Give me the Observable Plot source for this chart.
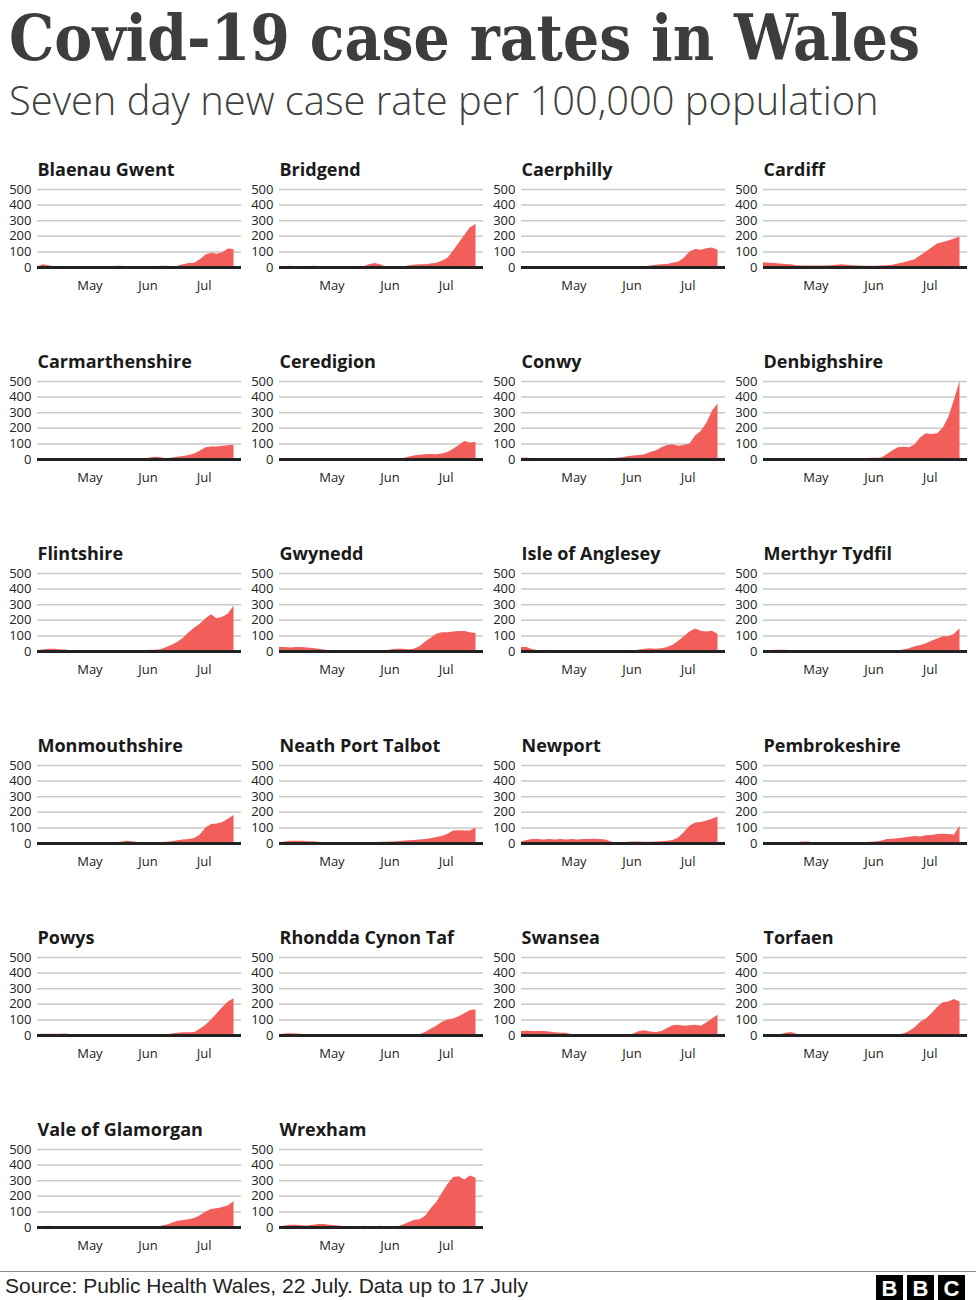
<!DOCTYPE html>
<html>
<head>
<meta charset="utf-8">
<script src="https://cdn.jsdelivr.net/npm/d3@7"></script>
<script src="https://cdn.jsdelivr.net/npm/@observablehq/plot@0.6"></script>
<style>
  html, body { margin: 0; padding: 0; background: #fff; }
  #page { position: relative; width: 976px; height: 1300px; overflow: hidden; background: #fff; }
  .panel { position: absolute; width: 242px; height: 150px; }
  #title { position: absolute; left: 9px; top: 0px; font-family: "DejaVu Serif", serif; font-weight: bold; font-size: 63px;
           line-height: 76px; color: #3d3d3d; white-space: nowrap; transform-origin: 0 0; }
  #subtitle { position: absolute; left: 9px; top: 76px; font-family: "Open Sans", sans-serif; font-weight: 300; font-size: 40px;
              line-height: 48px; color: #404040; white-space: nowrap; transform-origin: 0 0; }
  #source { position: absolute; left: 5px; top: 1274px; font-family: "Liberation Sans", Arial, sans-serif; font-size: 21px; color: #222; white-space: nowrap; }
  #rule { position: absolute; left: 0; top: 1271px; width: 976px; height: 1px; background: #8a8a8a; }
  .bbc { position: absolute; top: 1275px; width: 27px; height: 26px; background: #000; color: #fff;
         font-family: "Liberation Sans", Arial, sans-serif; font-weight: bold; font-size: 22px; line-height: 27px; text-align: center; }
</style>
</head>
<body>
<div id="page">
  <div id="title">Covid-19 case rates in Wales</div>
  <div id="subtitle">Seven day new case rate per 100,000 population</div>
  <div id="rule"></div>
  <div id="source">Source: Public Health Wales, 22 July. Data up to 17 July</div>
  <div class="bbc" style="left:876px">B</div>
  <div class="bbc" style="left:907px">B</div>
  <div class="bbc" style="left:938px">C</div>
</div>
<script>
// Sample dates (every 3 days, 3 Apr – 17 Jul 2021)
const dates = ["2021-04-03","2021-04-06","2021-04-09","2021-04-12","2021-04-15","2021-04-18","2021-04-21","2021-04-24","2021-04-27","2021-04-30",
               "2021-05-03","2021-05-06","2021-05-09","2021-05-12","2021-05-15","2021-05-18","2021-05-21","2021-05-24","2021-05-27","2021-05-30",
               "2021-06-02","2021-06-05","2021-06-08","2021-06-11","2021-06-14","2021-06-17","2021-06-20","2021-06-23","2021-06-26","2021-06-29",
               "2021-07-02","2021-07-05","2021-07-08","2021-07-11","2021-07-14","2021-07-17"];
const xDomain = ["2021-04-03", "2021-07-21"];
const monthTicks = ["2021-05-01", "2021-06-01", "2021-07-01"];
const monthLabels = ["May", "Jun", "Jul"];
const yTicks = [0, 100, 200, 300, 400, 500];

const areaNames = ["Blaenau Gwent","Bridgend","Caerphilly","Cardiff","Carmarthenshire","Ceredigion","Conwy","Denbighshire",
  "Flintshire","Gwynedd","Isle of Anglesey","Merthyr Tydfil","Monmouthshire","Neath Port Talbot","Newport","Pembrokeshire",
  "Powys","Rhondda Cynon Taf","Swansea","Torfaen","Vale of Glamorgan","Wrexham"];

const blaenauGwent   = [3,18,12,5,3,2,2,2,2,2, 3,3,3,5,8,8,3,2,2,2, 3,5,8,8,5,8,18,25,28,50, 80,92,85,95,118,115];
const bridgend       = [0,5,8,5,0,5,8,6,0,0, 0,0,0,0,0,3,18,25,18,3, 0,0,5,10,15,18,18,22,28,40, 60,105,155,205,255,275];
const caerphilly     = [3,3,5,3,5,5,5,3,3,3, 3,3,3,3,5,3,3,3,3,3, 3,3,5,10,15,18,20,28,35,60, 100,115,110,120,125,110];
const cardiff        = [30,28,25,22,20,18,12,10,10,10, 10,10,12,15,18,15,12,10,8,8, 8,10,12,15,22,30,40,50,75,100, 125,150,160,170,182,195];
const carmarthenshire= [2,2,2,2,2,2,5,2,2,2, 2,2,2,5,2,2,2,2,2,2, 10,15,12,5,10,15,20,25,35,55, 75,80,80,85,88,92];
const ceredigion     = [0,0,0,0,0,0,0,0,0,0, 0,0,3,0,0,0,0,0,0,0, 0,2,5,15,22,28,30,32,30,35, 45,65,90,115,105,110];
const conwy          = [8,10,5,0,0,0,0,0,0,0, 0,0,0,0,0,0,3,8,12,18, 22,25,30,45,55,75,90,95,85,90, 100,150,180,230,310,355];
const denbighshire   = [0,0,0,0,0,0,0,0,0,0, 0,0,0,0,0,0,0,0,0,8, 8,8,30,55,75,78,75,95,140,165, 160,165,200,270,380,500];
const flintshire     = [5,10,15,15,12,10,5,0,0,0, 0,0,0,0,0,0,0,0,0,5, 8,8,12,25,40,60,85,120,150,175, 210,235,210,220,240,290];
const gwynedd        = [25,25,22,25,25,22,20,15,10,5, 2,2,2,2,2,2,2,2,2,5, 12,15,15,12,15,30,60,85,110,120, 120,125,128,128,120,115];
const angleseyVals   = [25,25,12,5,3,8,3,0,0,0, 0,0,0,0,0,0,0,0,0,0, 0,10,15,18,15,18,25,40,65,95, 125,145,130,125,130,110];
const merthyrTydfil  = [3,5,8,8,8,0,0,0,0,0, 0,0,3,0,0,0,0,0,0,0, 0,0,0,0,5,10,18,30,38,50, 65,80,95,95,110,145];
const monmouthshire  = [0,0,0,0,0,0,0,0,0,0, 0,0,0,0,0,10,15,12,5,3, 3,3,5,8,12,18,22,25,32,55, 100,122,125,135,155,180];
const neathPortTalbot= [5,10,15,15,15,12,12,8,5,3, 0,0,2,3,5,5,5,5,8,8, 10,12,15,18,20,22,25,30,38,45, 60,80,82,80,80,100];
const newport        = [10,20,25,25,22,25,22,25,22,25, 22,25,25,28,25,22,10,3,5,8, 10,10,8,8,10,12,15,20,35,70, 110,132,135,145,155,170];
const pembrokeshire  = [3,5,5,0,0,0,5,10,10,5, 0,0,0,0,0,0,0,3,5,8, 10,15,25,28,30,35,40,45,42,50, 52,58,60,58,55,110];
const powys          = [5,8,8,8,8,10,5,0,0,0, 0,0,0,0,0,0,0,0,0,0, 0,0,0,5,10,15,18,18,20,40, 65,100,140,180,215,235];
const rhonddaCynonTaf= [5,10,12,10,8,0,0,0,0,0, 0,0,0,0,0,0,0,0,0,0, 0,0,0,0,0,5,20,40,60,85, 100,105,120,140,160,165];
const swansea        = [25,28,25,25,25,22,18,15,15,5, 0,0,0,0,0,0,0,0,0,3, 10,25,30,22,20,25,45,62,65,60, 62,65,60,80,105,130];
const torfaen        = [0,0,0,5,15,20,8,0,0,0, 0,0,0,0,0,0,0,0,0,0, 0,5,5,5,5,10,25,50,85,105, 140,180,210,215,230,215];
const valeOfGlamorgan= [3,5,8,5,0,0,0,0,0,0, 0,0,0,0,0,0,0,0,0,0, 0,3,8,15,28,40,45,50,58,75, 100,115,120,128,140,165];
const wrexham        = [5,10,15,15,12,10,15,20,20,15, 12,8,5,5,5,8,3,5,8,5, 3,3,15,30,45,50,70,120,160,220, 275,320,325,305,330,315];

const seriesList = [blaenauGwent, bridgend, caerphilly, cardiff, carmarthenshire, ceredigion, conwy, denbighshire,
  flintshire, gwynedd, angleseyVals, merthyrTydfil, monmouthshire, neathPortTalbot, newport, pembrokeshire,
  powys, rhonddaCynonTaf, swansea, torfaen, valeOfGlamorgan, wrexham];

// Fit title and subtitle to the reference widths
function fitWidth(id, target) {
  const el = document.getElementById(id);
  const w = el.offsetWidth;
  if (w > 0) el.style.transform = `scaleX(${target / w})`;
}
fitWidth("title", 911);
fitWidth("subtitle", 870);

const parse = d3.utcParse("%Y-%m-%d");
const page = document.getElementById("page");

areaNames.forEach((name, i) => {
  const values = seriesList[i];
  const data = dates.map((d, j) => ({date: parse(d), value: values[j]}));
  const col = i % 4, row = Math.floor(i / 4);
  const chart = Plot.plot({
    width: 242,
    height: 150,
    marginLeft: 37,
    marginRight: 1,
    marginTop: 39,
    marginBottom: 33,
    style: {fontFamily: "'Open Sans', sans-serif", fontSize: "13px", color: "#222", background: "transparent", overflow: "visible"},
    x: {type: "utc", domain: xDomain.map(parse), ticks: monthTicks.map(parse),
        tickFormat: (d) => monthLabels[monthTicks.indexOf(d3.utcFormat("%Y-%m-%d")(d))], tickSize: 0, tickPadding: 13, label: null},
    y: {domain: [0, 500], ticks: yTicks, tickSize: 0, tickPadding: 6, label: null},
    marks: [
      Plot.gridY(yTicks, {stroke: "#c8c8c8", strokeOpacity: 1, strokeWidth: 1.5}),
      Plot.areaY(data, {x: "date", y: "value", fill: "#f25f5a"}),
      Plot.ruleY([0], {stroke: "#222", strokeWidth: 3}),
      Plot.text([name], {frameAnchor: "top-left", text: (d) => d, dy: -14, lineAnchor: "bottom", textAnchor: "start",
                         fontSize: 18, fontWeight: "bold", fill: "#1a1a1a"})
    ]
  });
  const div = document.createElement("div");
  div.className = "panel";
  div.style.left = (col * 242) + "px";
  div.style.top = (150 + row * 192) + "px";
  div.appendChild(chart);
  page.appendChild(div);
});
</script>
</body>
</html>
